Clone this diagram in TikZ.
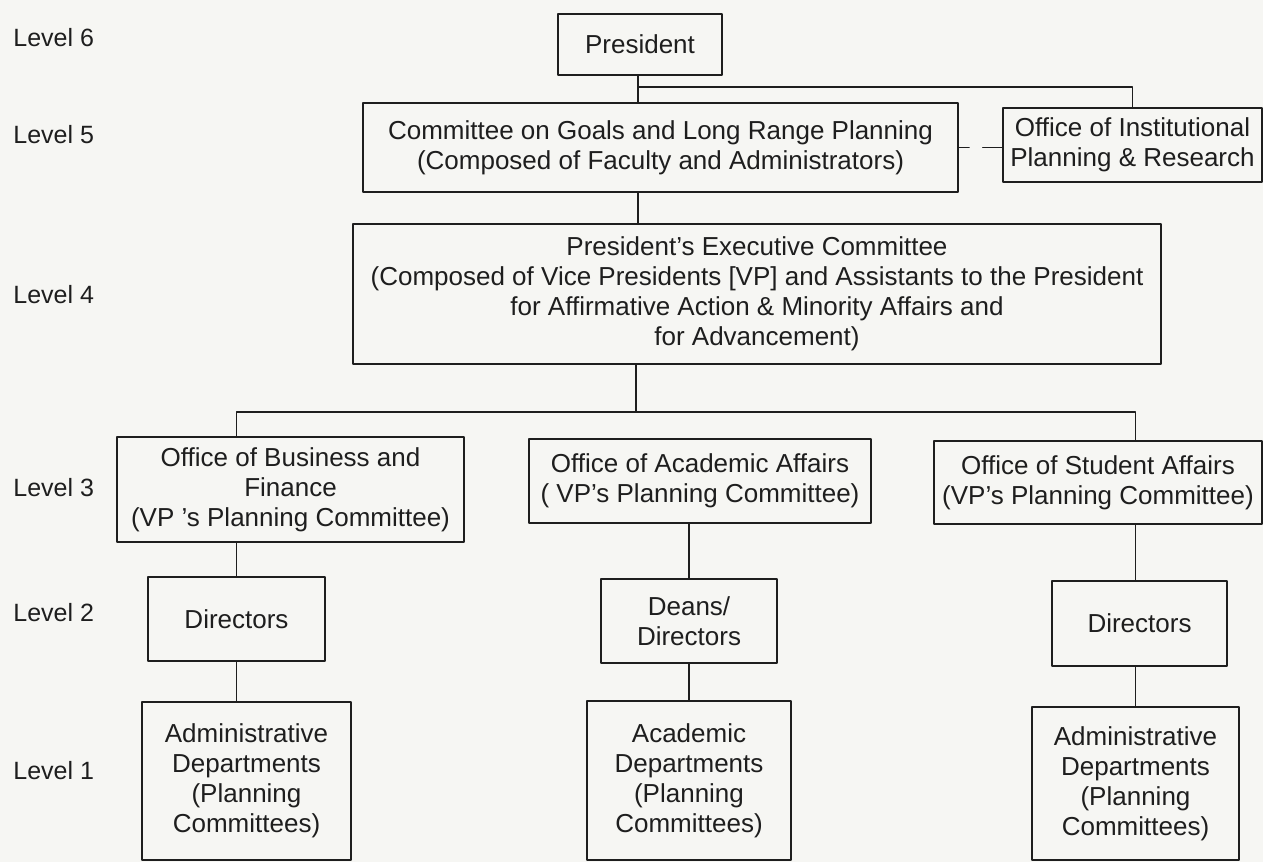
\documentclass[tikz,border=0pt]{standalone}
\usepackage{fontspec}
\setmainfont{Liberation Sans}
\definecolor{papier}{RGB}{246,246,243}
\definecolor{encre}{RGB}{30,30,30}

\begin{document}
\begin{tikzpicture}[line cap=round,line join=round,x=0.5pt,y=-0.5pt,
	boite/.style={draw=encre,line width=0.9pt,inner sep=0pt,align=center,text=encre,font=\fontsize{13}{15}\selectfont},
	niveau/.style={anchor=west,inner sep=0pt,text=encre,font=\fontsize{12.5}{15}\selectfont},
	trait/.style={draw=encre,line width=0.9pt}]
			\fill[papier] (0,0) rectangle (1263,862);
			\useasboundingbox (0,0) rectangle (1263,862);
			%niveaux
			\node[niveau] (n6) at (13,38) {Level 6};
			\node[niveau] (n5) at (13,135) {Level 5};
			\node[niveau] (n4) at (13,295) {Level 4};
			\node[niveau] (n3) at (13,488) {Level 3};
			\node[niveau] (n2) at (13,613) {Level 2};
			\node[niveau] (n1) at (13,771) {Level 1};
			%boites
			\node[boite,minimum width=82pt,minimum height=30.5pt] (pres) at (640,44.5) {President};
			\node[boite,minimum width=297.5pt,minimum height=44.5pt] (goals) at (660.5,147.5) {Committee on Goals and Long Range Planning\\(Composed of Faculty and Administrators)};
			\node[boite,minimum width=129.5pt,minimum height=37pt] (oipr) at (1132.5,145) {Office of Institutional\\Planning \& Research};
			\node[boite,minimum width=404pt,minimum height=70pt] (pec) at (757,294) {President's Executive Committee\\(Composed of Vice Presidents [VP] and Assistants to the President\\for Affirmative Action \& Minority Affairs and\\for Advancement)};
			\node[boite,minimum width=173.5pt,minimum height=52.5pt] (bus) at (290.5,489.5) {Office of Business and\\Finance\\(VP 's Planning Committee)};
			\node[boite,minimum width=171pt,minimum height=42pt] (acad) at (700,481) {Office of Academic Affairs\\( VP's Planning Committee)};
			\node[boite,minimum width=164pt,minimum height=41.5pt] (stu) at (1098,482.5) {Office of Student Affairs\\(VP's Planning Committee)};
			\node[boite,minimum width=88.5pt,minimum height=42pt] (dir1) at (236.5,619) {Directors};
			\node[boite,minimum width=88pt,minimum height=42pt] (deans) at (689,621) {Deans/\\Directors};
			\node[boite,minimum width=87.5pt,minimum height=42.5pt] (dir3) at (1139.5,623.5) {Directors};
			\node[boite,minimum width=104.5pt,minimum height=79pt] (adm1) at (246.5,781) {Administrative\\Departments\\(Planning\\Committees)};
			\node[boite,minimum width=102pt,minimum height=79.5pt] (adep) at (689,780.5) {Academic\\Departments\\(Planning\\Committees)};
			\node[boite,minimum width=103.5pt,minimum height=76.5pt] (adm3) at (1135.5,783.5) {Administrative\\Departments\\(Planning\\Committees)};
			%liaisons
			\coordinate (haut) at (638,87);
			\coordinate (bas) at (636,412);
			\draw[trait] (pres.south -| haut) -- (goals.north -| haut);
			\draw[trait] (haut) -| (oipr.north);
			\draw[trait,dash pattern=on 5pt off 7pt on 9pt off 0pt] (goals.east) -- (goals.east -| oipr.west);
			\draw[trait] (goals.south -| haut) -- (pec.north -| haut);
			\draw[trait] (pec.south -| bas) -- (bas);
			\draw[trait] (bus.north -| dir1.north) |- (bas) -| (stu.north -| adm3.north);
			\draw[trait] (bus.south -| dir1.north) -- (dir1.north);
			\draw[trait] (acad.south -| deans.north) -- (deans.north);
			\draw[trait] (stu.south -| adm3.north) -- (adm3.north |- dir3.north);
			\draw[trait] (dir1.south) -- (dir1.south |- adm1.north);
			\draw[trait] (deans.south) -- (deans.south |- adep.north);
			\draw[trait] (dir3.south -| adm3.north) -- (adm3.north);
\end{tikzpicture}
\end{document}
